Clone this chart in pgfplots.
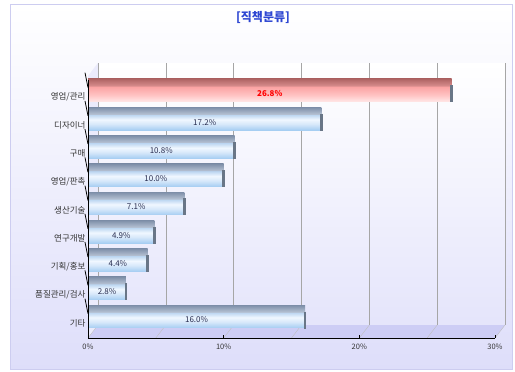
\documentclass[border=0pt]{standalone}
\usepackage{pgfplots}
\pgfplotsset{compat=1.18}
\usepackage{pgfplotstable}
\usepackage{fontspec}
\setmainfont{Noto Sans CJK KR}
\definecolor{bb1}{RGB}{165,205,242}
\definecolor{bb2}{RGB}{215,232,250}
\definecolor{bb3}{RGB}{240,247,255}
\definecolor{bb4}{RGB}{185,212,240}
\definecolor{bt1}{RGB}{180,192,210}
\definecolor{bt2}{RGB}{125,142,168}
\definecolor{rb1}{RGB}{255,232,232}
\definecolor{rb2}{RGB}{255,195,195}
\definecolor{rb3}{RGB}{250,160,160}
\definecolor{rt1}{RGB}{215,140,140}
\definecolor{rt2}{RGB}{175,100,100}
\definecolor{frameline}{RGB}{205,205,240}
\definecolor{lav}{RGB}{222,222,250}
\definecolor{floorc}{RGB}{205,205,245}
\definecolor{titleblue}{RGB}{45,70,210}
\definecolor{endface}{RGB}{105,118,135}
\pgfdeclareverticalshading{bluebar}{100bp}{color(0bp)=(bb1); color(25bp)=(bb1); color(38bp)=(bb2); color(48bp)=(bb3); color(59bp)=(bb4); color(60bp)=(bt1); color(75bp)=(bt2); color(100bp)=(bt2)}
\pgfdeclareverticalshading{redbar}{100bp}{color(0bp)=(rb1); color(25bp)=(rb1); color(40bp)=(rb2); color(59bp)=(rb3); color(60bp)=(rt1); color(75bp)=(rt2); color(100bp)=(rt2)}
\pgfplotstableread{
y v
8 26.8
}\redtab
\pgfplotstableread{
y v
7 17.2
6 10.8
5 10.0
4 7.1
3 4.9
2 4.4
1 2.8
0 16.0
}\bluetab
\pgfplotsset{
  bbar/.style={xbar, bar width=0.81, bar shift=0.23, draw=none, shade, shading=bluebar},
  rbar/.style={xbar, bar width=0.81, bar shift=0.23, draw=none, shade, shading=redbar},
}
\begin{document}
\begin{tikzpicture}[x=1pt,y=1pt]
\path (0,0) rectangle (515,372);
\begin{axis}[
  at={(88pt,34pt)}, anchor=south west,
  scale only axis, width=407pt, height=275pt,
  xmin=0, xmax=30, ymin=-0.53, ymax=9.2,
  clip=false, set layers,
  axis line style={draw=none},
  xtick={0,10,20,30},
  xtick pos=bottom, ytick pos=left,
  xticklabels={0\%,10\%,20\%,30\%},
  xtick style={black, thick},
  tick align=inside, major tick length=3pt,
  ytick={0,...,8},
  yticklabels={기타,품질관리/검사,기획/홍보,연구개발,생산기술,영업/판촉,구매,디자이너,영업/관리},
  ytick style={draw=none},
  tick label style={font=\fontsize{7.5}{8}\selectfont, text=black!80},
  xticklabel style={yshift=-2pt},
  yticklabel style={font=\fontsize{8.5}{9}\selectfont, xshift=1pt},
  /pgf/number format/assume math mode=true,
]
\begin{pgfonlayer}{axis background}
  \shade[top color=white, bottom color=lav, draw=frameline, line width=1pt]
    ([shift={(-78pt,-32pt)}]axis cs:0,-0.53) rectangle ([shift={(424pt,333pt)}]axis cs:0,-0.53);
  \fill[floorc] (axis cs:0,-0.53) -- (axis cs:30,-0.53) -- ([xshift=10pt]axis cs:30,-0.07) -- ([xshift=10pt]axis cs:0,-0.07) -- cycle;
  \shade[top color=white, bottom color=lav!80] ([xshift=10pt]axis cs:0,-0.07) rectangle ([xshift=10pt]axis cs:30,9.2);
  \fill[lav!60] (axis cs:0,-0.53) -- ([xshift=10pt]axis cs:0,-0.07) -- ([xshift=10pt]axis cs:0,9.2) -- (axis cs:0,8.74) -- cycle;
  \pgfplotsinvokeforeach{0,5,10,15,20,25,30}{
    \draw[black!35] ([xshift=10pt]axis cs:#1,-0.07) -- ([xshift=10pt]axis cs:#1,9.2);
    \draw[black!25] (axis cs:#1,-0.53) -- ([xshift=10pt]axis cs:#1,-0.07);
  }
\end{pgfonlayer}
\addplot[rbar] coordinates {(26.8,8)};
\addplot[bbar] coordinates {(17.2,7)};
\addplot[bbar] coordinates {(10.8,6)};
\addplot[bbar] coordinates {(10.0,5)};
\addplot[bbar] coordinates {(7.1,4)};
\addplot[bbar] coordinates {(4.9,3)};
\addplot[bbar] coordinates {(4.4,2)};
\addplot[bbar] coordinates {(2.8,1)};
\addplot[bbar] coordinates {(16.0,0)};
\addplot[only marks, mark=|, mark size=8.5pt, mark options={endface, line width=2.5pt, yshift=3pt}] table[x=v,y=y] {\redtab};
\addplot[only marks, mark=|, mark size=8.5pt, mark options={endface, line width=2.5pt, yshift=3pt}] table[x=v,y=y] {\bluetab};
\addplot[draw=none, mark=none, point meta=explicit,
  nodes near coords={\pgfmathprintnumber[fixed,fixed zerofill,precision=1]{\pgfplotspointmeta}\%},
  every node near coord/.style={anchor=center, yshift=3pt, font=\bfseries\fontsize{8}{9}\selectfont, text=red}]
  table[x expr=\thisrow{v}/2, y=y, meta=v] {\redtab};
\addplot[draw=none, mark=none, point meta=explicit,
  nodes near coords={\pgfmathprintnumber[fixed,fixed zerofill,precision=1]{\pgfplotspointmeta}\%},
  every node near coord/.style={anchor=center, yshift=3pt, font=\fontsize{8}{9}\selectfont, text={rgb,255:red,40;green,45;blue,80}}]
  table[x expr=\thisrow{v}/2, y=y, meta=v] {\bluetab};
\draw[black, line width=0.8pt] (axis cs:0,8.6) -- (axis cs:0,-0.53) -- (axis cs:30,-0.53);
\pgfplotsinvokeforeach{0.33,1.33,2.33,3.33,4.33,5.33,6.33,7.33,8.33}{
  \draw[black, line width=0.8pt] (axis cs:0,#1) -- ++(-3pt,0);
}
\end{axis}
\node[font=\bfseries\fontsize{12}{14}\selectfont, text=titleblue] at (263,355) {[직책분류]};
\end{tikzpicture}
\end{document}
